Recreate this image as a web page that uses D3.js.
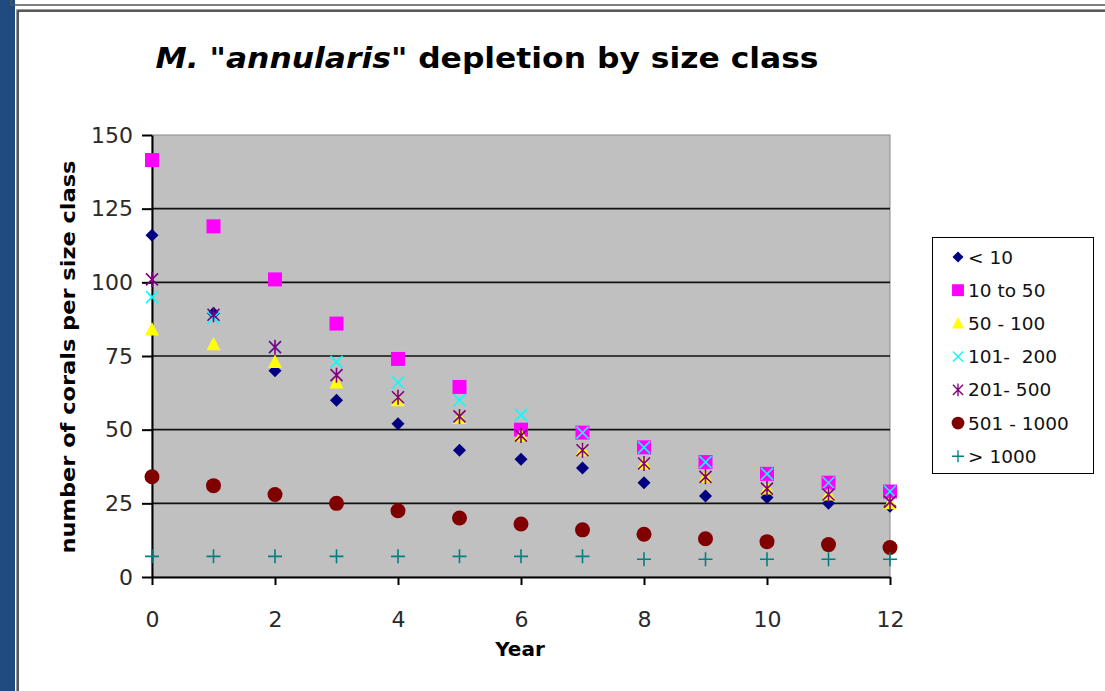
<!DOCTYPE html>
<html>
<head>
<meta charset="utf-8">
<script src="https://cdn.jsdelivr.net/npm/d3@7"></script>
<style>
  html, body { margin: 0; padding: 0; background: #fff; }
  svg { display: block; }
</style>
</head>
<body>
<svg id="chart" width="1105" height="691"></svg>
<script>
// Survey years and coral counts per size class
const years = [0, 1, 2, 3, 4, 5, 6, 7, 8, 9, 10, 11, 12];

const seriesNames = ["< 10", "10 to 50", "50 - 100", "101-  200", "201- 500", "501 - 1000", "> 1000"];

const lt10      = [116, 89.5, 70, 60, 52, 43, 40, 37, 32, 27.5, 27, 25, 24];
const s10to50   = [141.5, 119, 101, 86, 74, 64.5, 50, 49, 44, 39, 35, 32, 29];
const s50to100  = [84, 79, 73, 66, 60, 54, 48, 43, 38.5, 34, 30, 28, 25];
const s101to200 = [95, 88, 78, 73, 66, 60, 55, 49, 44, 39, 35, 32, 29];
const s201to500 = [101, 89, 78, 68.5, 61, 54.5, 48, 43, 38.5, 34, 30, 28, 25.5];
const s501to1000 = [34, 31, 28, 25, 22.5, 20, 18, 16, 14.5, 13, 12, 11, 10];
const gt1000    = [7, 7, 7, 7, 7, 7, 7, 7, 6, 6, 6, 6, 6];

const yTicks = [0, 25, 50, 75, 100, 125, 150];
const xTicks = [0, 2, 4, 6, 8, 10, 12];

const seriesValues = [lt10, s10to50, s50to100, s101to200, s201to500, s501to1000, gt1000];
const markerKinds = ["diamond", "square", "triangle", "cross", "star", "circle", "plus"];
const markerColors = ["#000080", "#ff00ff", "#ffff00", "#00ffff", "#800080", "#800000", "#008080"];

const svg = d3.select("#chart");

// Window frame
svg.append("rect").attr("x", 0).attr("y", 0).attr("width", 15).attr("height", 691).attr("fill", "#1f4b80");
svg.append("line").attr("x1", 11).attr("x2", 1105).attr("y1", 5).attr("y2", 5).attr("stroke", "#555").attr("stroke-width", 1.5);
svg.append("line").attr("x1", 11).attr("x2", 11).attr("y1", 0).attr("y2", 5).attr("stroke", "#555").attr("stroke-width", 1.5);
svg.append("rect").attr("x", 15).attr("y", 8).attr("width", 1090).attr("height", 683).attr("fill", "#fff");
svg.append("path").attr("d", "M16.5,691V9.5H1105").attr("fill", "none").attr("stroke", "#999").attr("stroke-width", 1);
svg.append("path").attr("d", "M18,691V11H1105").attr("fill", "none").attr("stroke", "#222").attr("stroke-width", 1.5);

// Plot area
const x = d3.scaleLinear().domain([0, 12]).range([152, 890]);
const y = d3.scaleLinear().domain([0, 150]).range([577, 135]);

svg.append("rect")
  .attr("x", x(0)).attr("y", y(150))
  .attr("width", x(12) - x(0)).attr("height", y(0) - y(150))
  .attr("fill", "#c0c0c0").attr("stroke", "#8a8a8a").attr("stroke-width", 1);

// Horizontal gridlines
svg.append("g").selectAll("line")
  .data(yTicks.filter(v => v > 0 && v < 150))
  .join("line")
  .attr("x1", x(0)).attr("x2", x(12))
  .attr("y1", d => y(d)).attr("y2", d => y(d))
  .attr("stroke", "#111").attr("stroke-width", 1.6);

const tickFont = "DejaVu Sans, Verdana, sans-serif";

// Y axis
const yAxis = svg.append("g")
  .attr("transform", `translate(${x(0)},0)`)
  .call(d3.axisLeft(y).tickValues(yTicks).tickSize(10).tickPadding(9).tickSizeOuter(0));
yAxis.select(".domain").attr("stroke", "#000").attr("stroke-width", 2);
yAxis.selectAll(".tick line").attr("stroke", "#000").attr("stroke-width", 2);
yAxis.selectAll("text").attr("font-family", tickFont).attr("font-size", 22).attr("fill", "#2a2a2a");

// X axis
const xAxis = svg.append("g")
  .attr("transform", `translate(0,${y(0)})`)
  .call(d3.axisBottom(x).tickValues(xTicks).tickSize(8).tickPadding(26).tickSizeOuter(0));
xAxis.select(".domain").attr("stroke", "#000").attr("stroke-width", 2);
xAxis.selectAll(".tick line").attr("stroke", "#000").attr("stroke-width", 2);
xAxis.selectAll("text").attr("font-family", tickFont).attr("font-size", 22).attr("fill", "#2a2a2a");

// Marker shapes
function drawMarker(sel, kind, color) {
  switch (kind) {
    case "diamond":
      sel.append("path").attr("d", "M0,-6.5L6.5,0L0,6.5L-6.5,0Z").attr("fill", color);
      break;
    case "square":
      sel.append("rect").attr("x", -7).attr("y", -7).attr("width", 14).attr("height", 14).attr("fill", color);
      break;
    case "triangle":
      sel.append("path").attr("d", "M0,-7.5L7,6L-7,6Z").attr("fill", color);
      break;
    case "cross":
      sel.append("path").attr("d", "M-6,-6L6,6M-6,6L6,-6").attr("stroke", color).attr("stroke-width", 1.6).attr("fill", "none");
      break;
    case "star":
      sel.append("path").attr("d", "M-6,-6L6,6M-6,6L6,-6M0,-7.5L0,7.5").attr("stroke", color).attr("stroke-width", 1.6).attr("fill", "none");
      break;
    case "circle":
      sel.append("circle").attr("r", 7.5).attr("fill", color);
      break;
    case "plus":
      sel.append("path").attr("d", "M-7,0L7,0M0,-7L0,7").attr("stroke", color).attr("stroke-width", 1.6).attr("fill", "none");
      break;
  }
}

// Data points, series drawn in order so later ones sit on top
seriesValues.forEach((vals, i) => {
  const g = svg.append("g").attr("class", "series");
  g.selectAll("g")
    .data(years.map((yr, j) => ({ yr, v: vals[j] })))
    .join("g")
    .attr("transform", d => `translate(${x(d.yr)},${y(d.v)})`)
    .each(function () { drawMarker(d3.select(this), markerKinds[i], markerColors[i]); });
});

// Title
const title = svg.append("text")
  .attr("x", 487).attr("y", 68)
  .attr("text-anchor", "middle")
  .attr("font-family", tickFont)
  .attr("font-weight", "bold")
  .attr("font-size", 29)
  .attr("fill", "#000");
title.append("tspan").attr("font-style", "italic").text("M. \"annularis\"");
title.append("tspan").text(" depletion by size class");
title.attr("textLength", 663).attr("lengthAdjust", "spacingAndGlyphs");

// Axis titles
svg.append("text")
  .attr("x", 520).attr("y", 656)
  .attr("text-anchor", "middle")
  .attr("font-family", tickFont).attr("font-weight", "bold").attr("font-size", 20)
  .text("Year");

svg.append("text")
  .attr("transform", "translate(75,357) rotate(-90)")
  .attr("text-anchor", "middle")
  .attr("font-family", tickFont).attr("font-weight", "bold").attr("font-size", 19)
  .attr("textLength", 393).attr("lengthAdjust", "spacingAndGlyphs")
  .text("number of corals per size class");

// Legend
const legend = svg.append("g").attr("transform", "translate(932,237)");
legend.append("rect").attr("x", 0.5).attr("y", 0.5).attr("width", 161).attr("height", 236)
  .attr("fill", "#fff").attr("stroke", "#000").attr("stroke-width", 1);
seriesNames.forEach((name, i) => {
  const row = legend.append("g").attr("transform", `translate(26,${20 + i * 33.2})`);
  const m = row.append("g").attr("transform", "scale(0.85)");
  drawMarker(m, markerKinds[i], markerColors[i]);
  row.append("text").attr("x", 10).attr("y", 0).attr("dy", "0.36em")
    .attr("font-family", tickFont).attr("font-size", 18.5).attr("fill", "#111")
    .attr("xml:space", "preserve")
    .style("white-space", "pre")
    .text(name);
});
</script>
</body>
</html>
